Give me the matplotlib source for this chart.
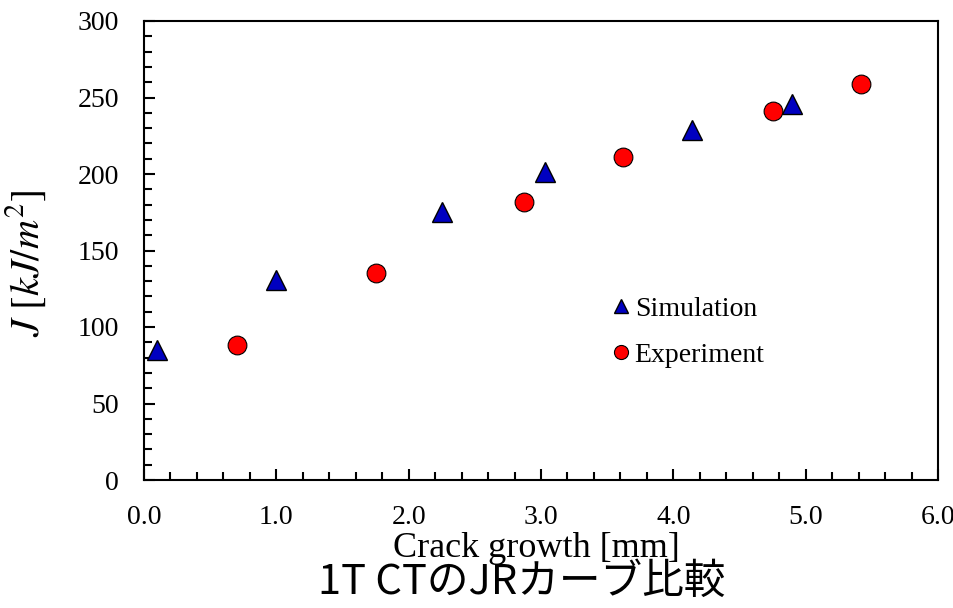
import matplotlib
matplotlib.use("Agg")
import matplotlib.pyplot as plt
from matplotlib.ticker import MultipleLocator, FormatStrFormatter

# シミュレーション結果
sim_x = [0.10, 1.00, 2.25, 3.03, 4.14, 4.90]
sim_j = [85, 131, 175, 201, 229, 246]
# 実験結果
exp_x = [0.70, 1.75, 2.87, 3.62, 4.75, 5.42]
exp_j = [88, 135, 182, 211, 241, 259]

title_text = "1T CTのJRカーブ比較"

plt.rcParams['font.family'] = ['Liberation Serif', 'DejaVu Serif']
plt.rcParams['mathtext.fontset'] = 'stix'

fig = plt.figure(figsize=(9.54, 6.08), dpi=100)
ax = fig.add_axes([144/954, 1 - 480/608, (938-144)/954, (480-21)/608])

ax.plot(sim_x, sim_j, linestyle='none', marker='^', markersize=14,
        markerfacecolor='#0000C0', markeredgecolor='black', markeredgewidth=1.0,
        label='Simulation', zorder=3)
ax.plot(exp_x, exp_j, linestyle='none', marker='o', markersize=13.5,
        markerfacecolor='#FF0000', markeredgecolor='black', markeredgewidth=0.8,
        label='Experiment', zorder=3)

ax.set_xlim(0, 6.0)
ax.set_ylim(0, 300)
ax.xaxis.set_major_locator(MultipleLocator(1.0))
ax.xaxis.set_minor_locator(MultipleLocator(0.2))
ax.xaxis.set_major_formatter(FormatStrFormatter('%.1f'))
ax.yaxis.set_major_locator(MultipleLocator(50))
ax.yaxis.set_minor_locator(MultipleLocator(10))
ax.tick_params(which='both', direction='in', top=False, right=False,
               width=1.5, labelsize=20)
ax.tick_params(which='major', length=8, pad=18)
ax.tick_params(which='minor', length=6)
for s in ax.spines.values():
    s.set_linewidth(1.5)

ax.set_ylabel(r'$J\ [kJ/m^2]$', fontsize=29)
ax.yaxis.set_label_coords(-0.121, 0.473)
ax.set_xlabel('Crack growth [mm]', fontsize=26)
ax.xaxis.set_label_coords(0.494, -0.114)

leg = ax.legend(loc='upper left', bbox_to_anchor=(0.569, 0.424), frameon=False,
                fontsize=20, handletextpad=0.0, markerscale=0.75,
                labelspacing=0.75, borderaxespad=0, handlelength=1.0)

fig.text(522/954, 1 - 582/608, title_text, ha='center', va='center', fontsize=30,
         family=['Noto Sans CJK JP', 'DejaVu Sans'])

plt.savefig('out.png', dpi=100)
